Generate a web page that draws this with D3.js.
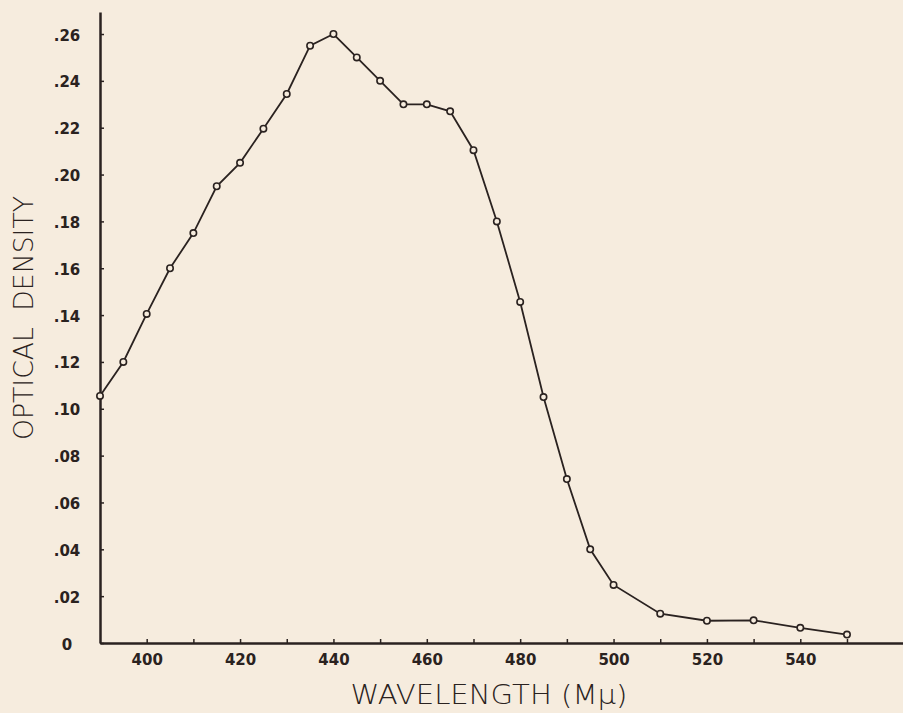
<!DOCTYPE html>
<html>
<head>
<meta charset="utf-8">
<script src="https://cdn.jsdelivr.net/npm/d3@7"></script>
<style>
  html, body { margin: 0; padding: 0; background: #f6ecde; }
  svg { display: block; }
</style>
</head>
<body>
<svg width="903" height="713"></svg>
<script>
// wavelength (m\u03bc) and optical density
var wavelengths = [390, 395, 400, 405, 410, 415, 420, 425, 430, 435, 440, 445, 450, 455, 460, 465, 470, 475, 480, 485, 490, 495, 500, 510, 520, 530, 540, 550];
var densities   = [0.1055, 0.120, 0.1405, 0.160, 0.175, 0.195, 0.205, 0.2196, 0.2344, 0.255, 0.260, 0.250, 0.240, 0.230, 0.230, 0.227, 0.2104, 0.180, 0.1456, 0.105, 0.070, 0.040, 0.0248, 0.0125, 0.0095, 0.0097, 0.0065, 0.0036];
var xTicks = [400, 410, 420, 430, 440, 450, 460, 470, 480, 490, 500, 510, 520, 530, 540, 550];
var xLabels = [400, 420, 440, 460, 480, 500, 520, 540];
var yTicks = [0, 0.02, 0.04, 0.06, 0.08, 0.10, 0.12, 0.14, 0.16, 0.18, 0.20, 0.22, 0.24, 0.26];

var ink = '#2a2220';
var paper = '#f6ecde';
var svg = d3.select('svg');
var plotLeft = 100, plotTop = 12, plotRight = 903, plotBottom = 643;

var x = d3.scaleLinear().domain([390, 562]).range([plotLeft, plotRight]);
var y = d3.scaleLinear().domain([0, 0.2694]).range([plotBottom, plotTop]);

var tickFont = '"DejaVu Sans", sans-serif';

// x axis
var xAxis = d3.axisBottom(x)
    .tickValues(xTicks)
    .tickSize(-4)
    .tickSizeOuter(0)
    .tickFormat(function(d) { return xLabels.indexOf(d) >= 0 ? d : ''; });

var gx = svg.append('g')
    .attr('transform', 'translate(0,' + plotBottom + ')')
    .call(xAxis);
gx.select('.domain').attr('stroke', ink).attr('stroke-width', 2.5);
gx.selectAll('.tick line').attr('stroke', ink).attr('stroke-width', 1.5);
gx.selectAll('.tick text')
    .attr('y', 11)
    .attr('fill', ink)
    .style('font-family', tickFont)
    .style('font-weight', 'bold')
    .style('font-size', '15px');

// y axis
var yAxis = d3.axisLeft(y)
    .tickValues(yTicks)
    .tickSize(-4)
    .tickSizeOuter(0)
    .tickFormat(function(d) { return d === 0 ? '0' : d3.format('.2f')(d).replace(/^0/, ''); });

var gy = svg.append('g')
    .attr('transform', 'translate(' + plotLeft + ',0)')
    .call(yAxis);
gy.select('.domain').attr('stroke', ink).attr('stroke-width', 2.5);
gy.selectAll('.tick line').attr('stroke', ink).attr('stroke-width', 1.5);
gy.selectAll('.tick text')
    .attr('x', -33)
    .attr('dy', '0.4em')
    .attr('text-anchor', 'middle')
    .attr('fill', ink)
    .style('font-family', tickFont)
    .style('font-weight', 'bold')
    .style('font-size', '15px');

// curve
var points = wavelengths.map(function(w, i) { return [w, densities[i]]; });

svg.append('path')
    .datum(points)
    .attr('fill', 'none')
    .attr('stroke', ink)
    .attr('stroke-width', 1.8)
    .attr('d', d3.line()
        .x(function(d) { return x(d[0]); })
        .y(function(d) { return y(d[1]); }));

svg.selectAll('circle.pt')
    .data(points)
    .enter()
    .append('circle')
    .attr('class', 'pt')
    .attr('cx', function(d) { return x(d[0]); })
    .attr('cy', function(d) { return y(d[1]); })
    .attr('r', 3.2)
    .attr('fill', paper)
    .attr('stroke', ink)
    .attr('stroke-width', 1.6);

// axis titles
var titleFont = '"DejaVu Sans", sans-serif';

svg.append('text')
    .attr('x', 489)
    .attr('y', 704)
    .attr('text-anchor', 'middle')
    .attr('fill', ink)
    .attr('textLength', 277)
    .attr('lengthAdjust', 'spacingAndGlyphs')
    .style('font-family', titleFont)
    .style('font-weight', 200)
    .style('font-size', '26px')
    .text('WAVELENGTH (M\u03bc)');

svg.append('text')
    .attr('transform', 'translate(33,318) rotate(-90)')
    .attr('text-anchor', 'middle')
    .attr('fill', ink)
    .attr('textLength', 244)
    .attr('lengthAdjust', 'spacingAndGlyphs')
    .style('font-family', titleFont)
    .style('font-weight', 200)
    .style('font-size', '27px')
    .style('word-spacing', '8px')
    .text('OPTICAL DENSITY');
</script>
</body>
</html>
